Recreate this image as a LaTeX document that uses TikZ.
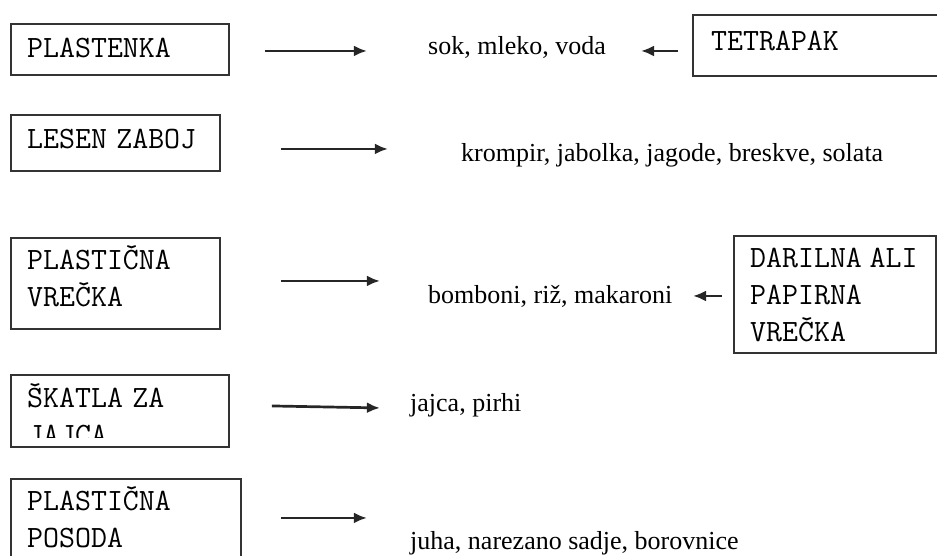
\documentclass[tikz,border=0pt]{standalone}
\usepackage{fontspec}
\setmainfont{Liberation Serif}
\usetikzlibrary{arrows.meta}

\begin{document}
\begin{tikzpicture}[x=1pt, y=1pt,
        okvir/.style={draw=black!80, line width=1.9pt, inner sep=0pt, anchor=north west},
        napis/.style={font=\ttfamily\fontsize{31}{37}\selectfont, align=left, inner sep=0pt, anchor=north west},
        vsebina/.style={font=\fontsize{26}{30}\selectfont, inner sep=0pt, anchor=base west},
        puscica/.style={draw=black!85, line width=2.7pt, -{Latex[length=13pt,width=11pt]}}]
            \useasboundingbox (0,0) rectangle (937,-556);
            \clip (0,0) rectangle (937,-556);
            \node[okvir, minimum width=218, minimum height=51] (plastenka) at (10,-23) {};
            \node[okvir, minimum width=262, minimum height=61] (tetrapak) at (692,-14) {};
            \node[okvir, minimum width=209, minimum height=56] (lesen) at (10,-114) {};
            \node[okvir, minimum width=209, minimum height=91] (plastvrecka) at (10,-237) {};
            \node[okvir, minimum width=202, minimum height=117] (darilna) at (733,-235) {};
            \node[okvir, minimum width=218, minimum height=72] (skatla) at (10,-374) {};
            \node[okvir, minimum width=230, minimum height=90] (posoda) at (10,-478) {};
            \node[napis] (plastenka-t) at ([shift={(17,-8)}]plastenka.north west) {\strut PLASTENKA};
            \node[napis] (tetrapak-t) at ([shift={(19,-10)}]tetrapak.north west) {\strut TETRAPAK};
            \node[napis] (lesen-t) at ([shift={(17,-8)}]lesen.north west) {\strut LESEN\hspace{.3em}ZABOJ};
            \node[napis] (plastvrecka-t) at ([shift={(17,-6)}]plastvrecka.north west) {\strut PLASTIČNA\\VREČKA};
            \node[napis] (darilna-t) at ([shift={(17,-6)}]darilna.north west) {\strut DARILNA\hspace{.25em}ALI\\PAPIRNA\\VREČKA};
            \node[napis] (skatla-t) at ([shift={(17,-7)}]skatla.north west) {\strut ŠKATLA\hspace{.3em}ZA\\JAJCA};
            \node[napis] (posoda-t) at ([shift={(17,-6)}]posoda.north west) {\strut PLASTIČNA\\POSODA};
            \fill[white] ([shift={(1.5,1.5)}]skatla.south west) rectangle ([shift={(-1.5,10)}]skatla.south east);
            \node[vsebina] (sok) at (428,-55) {sok, mleko, voda};
            \node[vsebina] (krompir) at (461,-162) {krompir, jabolka, jagode, breskve, solata};
            \node[vsebina] (bomboni) at (428,-303) {bomboni, riž, makaroni};
            \node[vsebina] (jajca) at (410,-411) {jajca, pirhi};
            \node[vsebina] (juha) at (410,-549) {juha, narezano sadje, borovnice};
            \draw[puscica] ([shift={(35,-1.5)}]plastenka.east) -- ++(102,0);
            \draw[puscica] ([shift={(60,-6)}]lesen.east) -- ++(107,0);
            \draw[puscica] ([shift={(60,2.5)}]plastvrecka.east) -- ++(99,0);
            \draw[puscica] ([shift={(42,5)}]skatla.east) -- ++(108,-2);
            \draw[puscica] ([shift={(39,6)}]posoda.east) -- ++(86,0);
            \draw[puscica] ([shift={(-14,-5.5)}]tetrapak.west) -- ++(-37,0);
            \draw[puscica] ([shift={(-11,-1.5)}]darilna.west) -- ++(-29,0);
        \end{tikzpicture}
\end{document}
